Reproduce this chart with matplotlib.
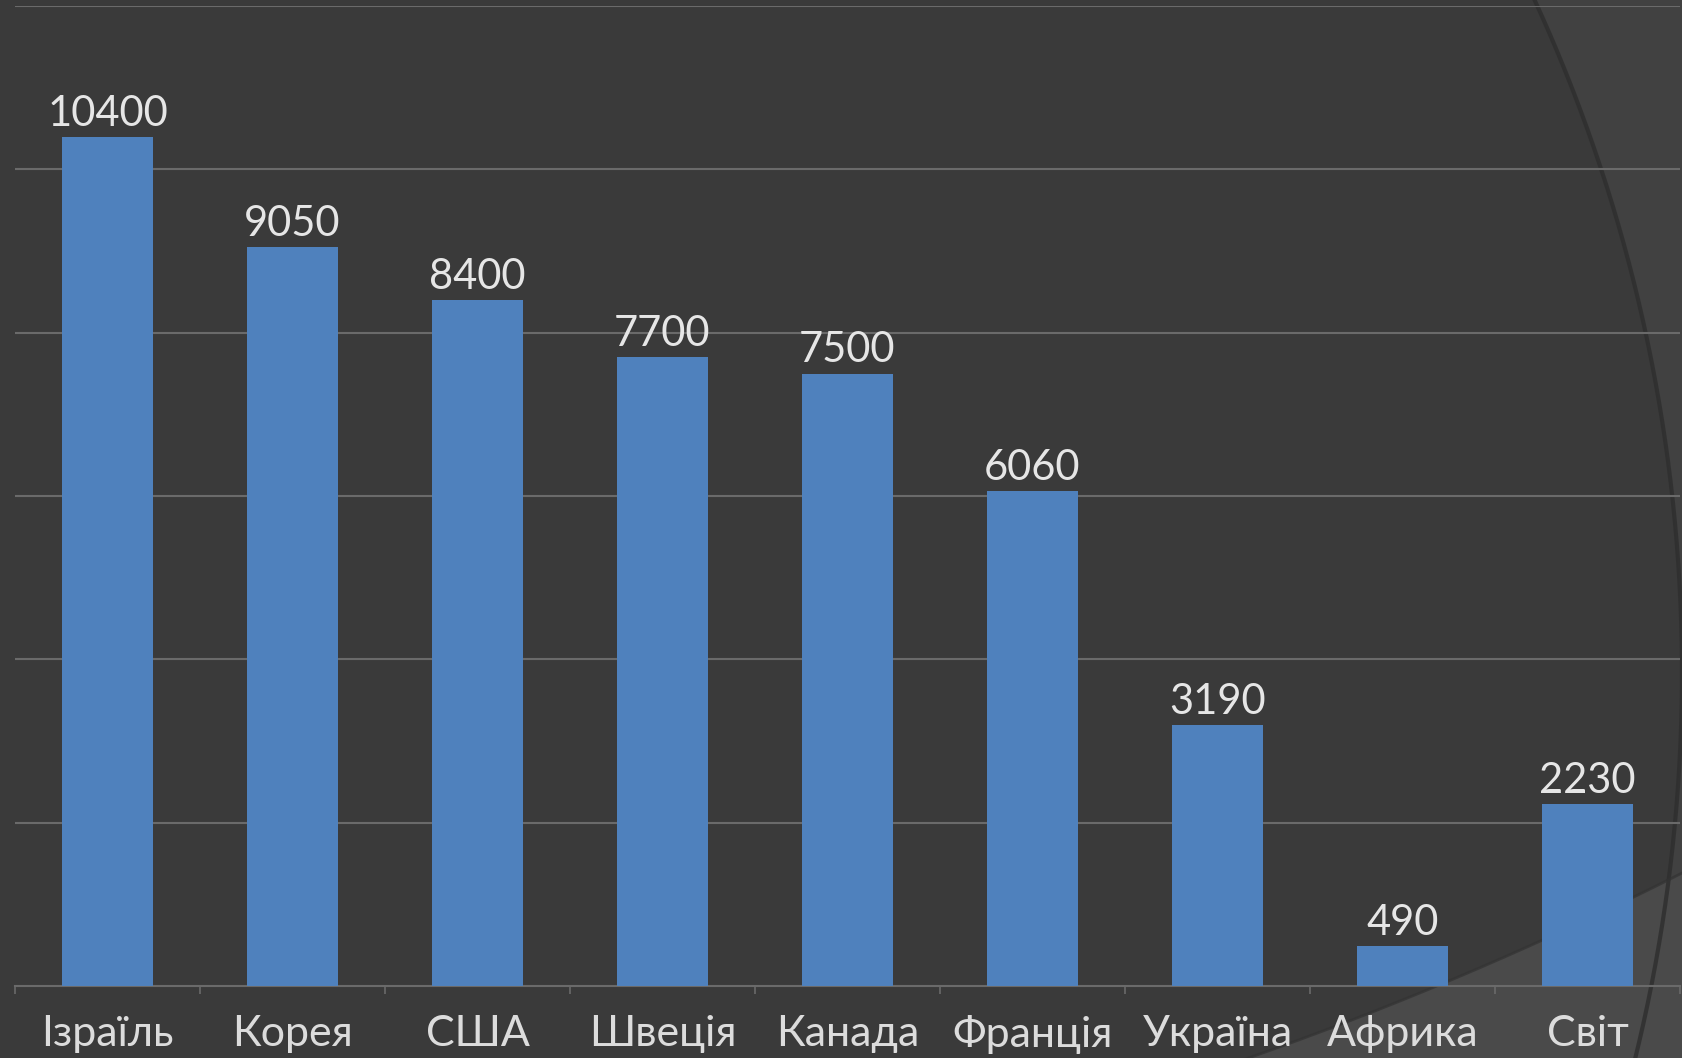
import numpy as np
import matplotlib
matplotlib.use("Agg")
import matplotlib.pyplot as plt
from matplotlib.patches import Polygon

countries = ["Ізраїль", "Корея", "США", "Швеція", "Канада", "Франція", "Україна", "Африка", "Світ"]
values = [10400, 9050, 8400, 7700, 7500, 6060, 3190, 490, 2230]
y_max = 12000
y_step = 2000

BG = "#3a3a3a"
BAR = "#4f81bd"
GRID = "#6a6a6a"
TXT = "#e6e6e6"

plt.rcParams["font.family"] = ["Lato", "DejaVu Sans"]

W, H = 1683, 1058
fig = plt.figure(figsize=(W / 100, H / 100), dpi=100)
fig.patch.set_facecolor(BG)

# background decoration (theme arcs), in pixel coords
bg = fig.add_axes([0, 0, 1, 1], zorder=0)
bg.set_xlim(0, W)
bg.set_ylim(H, 0)
bg.axis("off")

# big arc on the right
cx, cy, r = 72, 673, 1610
t = np.linspace(-0.5, 0.5, 400)
ax_pts = np.column_stack([cx + r * np.cos(t), cy + r * np.sin(t)])
keep = (ax_pts[:, 1] >= -5) & (ax_pts[:, 1] <= H + 5)
arc = ax_pts[keep]
right_poly = np.vstack([arc, [[W + 5, H + 5], [W + 5, -5]]])
bg.add_patch(Polygon(right_poly, closed=True, facecolor="#414141", edgecolor="none"))
bg.plot(arc[:, 0], arc[:, 1], color="#2e2e2e", lw=3, alpha=0.8)

# lighter wedge bottom right
cx2, cy2, r2 = 73, -2297, 3555
t2 = np.linspace(np.arctan2(H + 5 - cy2, 1230 - cx2), np.arctan2(860 - cy2, W + 5 - cx2), 200)
arc2 = np.column_stack([cx2 + r2 * np.cos(t2), cy2 + r2 * np.sin(t2)])
wedge = np.vstack([arc2, [[W + 5, H + 5]]])
bg.add_patch(Polygon(wedge, closed=True, facecolor="#4a4a4a", edgecolor="none"))
bg.plot(arc2[:, 0], arc2[:, 1], color="#333333", lw=2, alpha=0.7)

# main chart
ax = fig.add_axes([15 / W, 72 / H, (1680 - 15) / W, (986 - 6) / H], zorder=1)
ax.patch.set_alpha(0)

x = np.arange(len(countries))
bars = ax.bar(x, values, width=0.49, color=BAR, zorder=3)

ax.set_xlim(-0.5, len(countries) - 0.5)
ax.set_ylim(0, y_max)
ax.set_yticks(np.arange(y_step, y_max + 1, y_step))
ax.yaxis.grid(True, color=GRID, lw=1.5, zorder=0)
ax.tick_params(axis="y", left=False, labelleft=False)

for s in ["top", "right", "left"]:
    ax.spines[s].set_visible(False)
ax.spines["bottom"].set_color(GRID)
ax.spines["bottom"].set_linewidth(1.5)

ax.set_xticks(np.arange(-0.5, len(countries)), minor=True)
ax.set_xticks(x)
ax.set_xticklabels(countries, fontsize=31, color="#dcdcdc")
ax.tick_params(axis="x", which="major", length=0, pad=21)
ax.tick_params(axis="x", which="minor", length=6, width=1.2, color=GRID)

for xi, v in zip(x, values):
    ax.annotate(f"{v}", (xi, v), xytext=(0, 3), textcoords="offset points",
                ha="center", va="bottom", fontsize=30, color=TXT)

fig.savefig("out.png", dpi=100, facecolor=BG)
